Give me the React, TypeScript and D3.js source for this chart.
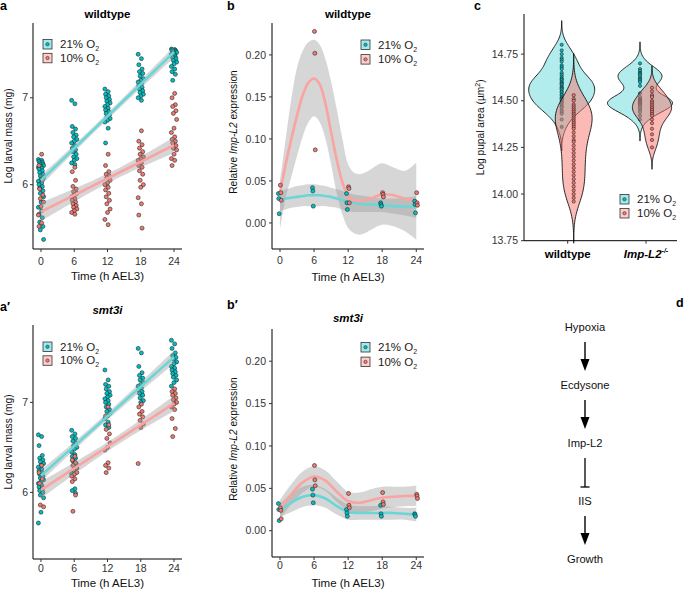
import React from 'react';
import * as d3 from 'd3';

const times = [0, 6, 12, 18, 24];
const oxygen = ['21', '10'];
const fills = ['#00BFC4', '#F8766D'];
const lineCols = ['#6ad6d7', '#fba3a0'];

// a: wildtype, log larval mass (mg), one list per time point
const massWt21 = [
  [6.29, 6.28, 6.27, 6.26, 6.25, 6.24, 6.23, 6.22, 6.21, 6.2, 6.19, 6.18, 6.16, 6.14, 6.12, 6.1, 6.08, 6.06, 6.04, 6.02, 6.0, 5.98, 5.96, 5.93, 5.9, 5.86, 5.8, 5.74, 5.7, 5.66, 5.62, 5.57, 5.52, 5.48, 5.37],
  [6.97, 6.93, 6.67, 6.64, 6.6, 6.57, 6.55, 6.52, 6.5, 6.48, 6.45, 6.42, 6.4, 6.38, 6.35, 6.32, 6.3, 6.28, 6.25, 6.23],
  [7.1, 7.07, 7.04, 7.02, 7.0, 6.98, 6.96, 6.94, 6.92, 6.9, 6.88, 6.86, 6.84, 6.82, 6.8, 6.78, 6.76, 6.74, 6.72, 6.65, 6.48],
  [7.5, 7.45, 7.38, 7.33, 7.3, 7.28, 7.25, 7.22, 7.2, 7.18, 7.16, 7.14, 7.12, 7.1, 7.08, 7.06, 7.04, 7.02, 7.0, 6.97],
  [7.56, 7.555, 7.55, 7.545, 7.54, 7.535, 7.53, 7.52, 7.51, 7.5, 7.49, 7.48, 7.47, 7.46, 7.45, 7.43, 7.41, 7.39, 7.36, 7.33, 7.3, 7.27, 7.2],
];
const massWt10 = [
  [6.35, 6.22, 6.05, 5.95, 5.88, 5.84, 5.8, 5.75, 5.65, 5.56, 5.52],
  [6.2, 6.15, 6.05, 5.98, 5.95, 5.92, 5.9, 5.88, 5.86, 5.84, 5.82, 5.8, 5.78, 5.76, 5.74, 5.72, 5.7, 5.68, 5.66],
  [6.35, 6.22, 6.15, 6.12, 6.1, 6.08, 6.05, 6.02, 6.0, 5.97, 5.94, 5.9, 5.86, 5.82, 5.78, 5.72, 5.68, 5.6, 5.54],
  [6.62, 6.5, 6.46, 6.42, 6.38, 6.35, 6.32, 6.3, 6.28, 6.25, 6.22, 6.2, 6.16, 6.12, 6.05, 6.0, 5.97, 5.85, 5.78, 5.65, 5.5],
  [7.05, 7.0, 6.92, 6.9, 6.85, 6.82, 6.75, 6.65, 6.6, 6.55, 6.52, 6.5, 6.48, 6.45, 6.42, 6.4, 6.35, 6.3, 6.28, 6.22],
];

// a': smt3i
const massSmt21 = [
  [6.64, 6.62, 6.52, 6.41, 6.38, 6.36, 6.34, 6.32, 6.3, 6.28, 6.26, 6.24, 6.22, 6.2, 6.18, 6.16, 6.14, 6.12, 6.1, 6.08, 6.06, 6.04, 6.02, 6.0, 5.97, 5.94, 5.78, 5.66],
  [6.69, 6.65, 6.62, 6.6, 6.57, 6.55, 6.52, 6.5, 6.48, 6.45, 6.42, 6.4, 6.38, 6.35, 6.32, 6.3, 6.27, 6.24, 6.21, 6.04, 6.02, 5.99],
  [7.36, 7.25, 7.2, 7.18, 7.15, 7.12, 7.1, 7.08, 7.06, 7.04, 7.02, 7.0, 6.98, 6.95, 6.92, 6.9, 6.88, 6.85, 6.82, 6.78, 6.75, 6.72],
  [7.6, 7.55, 7.4, 7.33, 7.3, 7.27, 7.25, 7.22, 7.2, 7.18, 7.16, 7.14, 7.12, 7.1, 7.08, 7.05, 7.02, 7.0],
  [7.69, 7.65, 7.6, 7.55, 7.52, 7.5, 7.48, 7.45, 7.43, 7.4, 7.38, 7.36, 7.34, 7.32, 7.3, 7.28, 7.25, 7.22, 7.18],
];
const massSmt10 = [
  [6.3, 6.22, 6.15, 6.1, 6.05, 5.86, 5.84],
  [6.4, 6.36, 6.33, 6.3, 6.27, 6.25, 6.22, 6.2, 6.18, 6.15, 6.12, 5.97, 5.79],
  [6.95, 6.85, 6.75, 6.7, 6.65, 6.6, 6.55, 6.5, 6.47, 6.33, 6.3, 6.27, 6.22],
  [6.98, 6.95, 6.9, 6.87, 6.84, 6.8, 6.76, 6.72, 6.32],
  [7.15, 7.12, 7.1, 7.08, 7.05, 7.03, 7.0, 6.98, 6.95, 6.92, 6.82, 6.71, 6.62],
];

// b: wildtype, relative Imp-L2 expression (qPCR replicates)
const exprWt21 = [[0.035, 0.029, 0.011], [0.042, 0.038, 0.02], [0.035, 0.024, 0.016], [0.024, 0.022, 0.02], [0.026, 0.022, 0.012]];
const exprWt10 = [[0.045, 0.036, 0.027], [0.228, 0.202, 0.087], [0.043, 0.041, 0.024], [0.036, 0.034, 0.031], [0.036, 0.024, 0.021]];
// loess fit and 95% band
const smoothTimesWt = [0, 1, 2, 3, 4, 5, 6, 7, 8, 9, 10, 11, 12, 13, 14, 15, 16, 18, 20, 22, 24];
const fitWt21 = [0.027, 0.029, 0.03, 0.031, 0.032, 0.033, 0.033, 0.033, 0.032, 0.031, 0.029, 0.027, 0.025, 0.024, 0.023, 0.022, 0.022, 0.021, 0.02, 0.0195, 0.019];
const upperWt21 = [0.038, 0.04, 0.042, 0.044, 0.045, 0.046, 0.046, 0.045, 0.044, 0.042, 0.04, 0.038, 0.036, 0.034, 0.033, 0.032, 0.031, 0.029, 0.029, 0.03, 0.032];
const lowerWt21 = [0.014, 0.016, 0.018, 0.019, 0.02, 0.02, 0.02, 0.02, 0.02, 0.019, 0.018, 0.016, 0.014, 0.013, 0.013, 0.013, 0.013, 0.013, 0.011, 0.009, 0.006];
const fitWt10 = [0.036, 0.07, 0.1, 0.128, 0.152, 0.167, 0.172, 0.165, 0.142, 0.108, 0.075, 0.048, 0.032, 0.027, 0.026, 0.027, 0.029, 0.034, 0.033, 0.029, 0.026];
const upperWt10 = [0.05, 0.1, 0.148, 0.185, 0.205, 0.215, 0.218, 0.212, 0.195, 0.168, 0.135, 0.1, 0.07, 0.06, 0.058, 0.06, 0.064, 0.071, 0.066, 0.062, 0.072];
const lowerWt10 = [-0.008, 0.03, 0.055, 0.08, 0.103, 0.12, 0.127, 0.12, 0.1, 0.07, 0.035, 0.01, -0.006, -0.012, -0.014, -0.012, -0.008, -0.002, -0.004, -0.01, -0.02];

// b': smt3i
const exprSmt21 = [[0.032, 0.025, 0.012], [0.049, 0.042, 0.033], [0.025, 0.021, 0.017], [0.03, 0.02, 0.017], [0.02, 0.019, 0.017]];
const exprSmt10 = [[0.027, 0.024, 0.014], [0.077, 0.06, 0.053], [0.044, 0.03, 0.027], [0.045, 0.034, 0.031], [0.043, 0.041, 0.038]];
const smoothTimesSmt = [0, 2, 4, 6, 8, 10, 12, 14, 16, 18, 20, 22, 24];
const fitSmt21 = [0.024, 0.033, 0.04, 0.042, 0.038, 0.029, 0.022, 0.021, 0.021, 0.021, 0.021, 0.02, 0.019];
const upperSmt21 = [0.032, 0.044, 0.052, 0.054, 0.049, 0.039, 0.031, 0.029, 0.029, 0.029, 0.028, 0.027, 0.027];
const lowerSmt21 = [0.016, 0.022, 0.028, 0.03, 0.027, 0.019, 0.013, 0.013, 0.013, 0.013, 0.013, 0.013, 0.011];
const fitSmt10 = [0.025, 0.043, 0.057, 0.064, 0.059, 0.046, 0.035, 0.033, 0.036, 0.039, 0.04, 0.041, 0.041];
const upperSmt10 = [0.036, 0.055, 0.07, 0.076, 0.071, 0.058, 0.046, 0.045, 0.049, 0.052, 0.052, 0.052, 0.053];
const lowerSmt10 = [0.014, 0.031, 0.045, 0.052, 0.047, 0.034, 0.024, 0.021, 0.023, 0.026, 0.028, 0.029, 0.029];

// c: log pupal area (um^2)
const genotypes = ['wildtype', 'Imp-L2'];
const pupalWt21 = [14.8, 14.77, 14.75, 14.73, 14.72, 14.71, 14.69, 14.68, 14.67, 14.65, 14.64, 14.63, 14.62, 14.615, 14.61, 14.6, 14.595, 14.59, 14.585, 14.575, 14.57, 14.565, 14.56, 14.55, 14.545, 14.535, 14.53, 14.52, 14.515, 14.51, 14.505, 14.495, 14.49, 14.48, 14.47, 14.465, 14.45, 14.44, 14.43, 14.4, 14.36];
const pupalWt10 = [14.53, 14.51, 14.5, 14.48, 14.47, 14.46, 14.45, 14.44, 14.43, 14.42, 14.41, 14.4, 14.39, 14.38, 14.37, 14.36, 14.35, 14.33, 14.31, 14.29, 14.28, 14.26, 14.24, 14.22, 14.2, 14.18, 14.16, 14.14, 14.12, 14.1, 14.08, 14.06, 14.04, 14.02, 14.0, 13.98, 13.96];
const pupalImp21 = [14.7, 14.67, 14.66, 14.65, 14.645, 14.64, 14.63, 14.62, 14.615, 14.61, 14.6, 14.58, 14.54, 14.52, 14.51, 14.505, 14.5, 14.5, 14.495, 14.49, 14.49, 14.485, 14.48, 14.475, 14.47, 14.46, 14.45, 14.44, 14.42, 14.4];
const pupalImp10 = [14.57, 14.55, 14.53, 14.52, 14.5, 14.49, 14.48, 14.47, 14.46, 14.45, 14.44, 14.43, 14.42, 14.4, 14.38, 14.35, 14.32, 14.29, 14.25];
const pupalTicks = [13.75, 14.0, 14.25, 14.5, 14.75];

// d: model
const steps = ['Hypoxia', 'Ecdysone', 'Imp-L2', 'IIS', 'Growth'];
const links = ['activates', 'activates', 'inhibits', 'activates'];

const font = "'Liberation Sans', Arial, Helvetica, sans-serif";
const jitter = (i: number, amp: number) => ((((i * 5) % 9) - 4) / 4) * amp;

const Legend = ({ x, y, gap }: any) => (
  <g>
    {oxygen.map((o, i) => (
      <g key={o} transform={`translate(${x},${y + i * gap})`}>
        <rect width={9} height={9.5} fill={fills[i]} fillOpacity={0.35} stroke="#333" strokeWidth={0.8} />
        <circle cx={4.5} cy={4.75} r={1.7} fill={fills[i]} stroke="#222" strokeWidth={0.5} />
        <text x={17} y={8.5} fontSize={11.5} fill="#222">
          {o}% O<tspan fontSize={7} dy={3}>2</tspan>
        </text>
      </g>
    ))}
  </g>
);

function linFit(groups: number[][]) {
  const pts = groups.flatMap((vals, i) => vals.map(v => [times[i], v]));
  const n = pts.length;
  const mx = d3.mean(pts, p => p[0]) as number;
  const my = d3.mean(pts, p => p[1]) as number;
  const sxx = d3.sum(pts, p => (p[0] - mx) ** 2);
  const b = d3.sum(pts, p => (p[0] - mx) * (p[1] - my)) / sxx;
  const a = my - b * mx;
  const s = Math.sqrt(d3.sum(pts, p => (p[1] - a - b * p[0]) ** 2) / (n - 2));
  return d3.range(0, 24.01, 0.5).map(t => {
    const se = 1.97 * s * Math.sqrt(1 / n + (t - mx) ** 2 / sxx);
    const f = a + b * t;
    return { t, f, lo: f - se, hi: f + se };
  });
}

const XAxis = ({ x, y0, tickY, titleY, xRight }: any) => (
  <g>
    <line x1={x.range()[0]} x2={xRight} y1={y0} y2={y0} stroke="#000" strokeWidth={1} />
    {times.map(t => (
      <g key={t}>
        <line x1={x(t)} x2={x(t)} y1={y0} y2={y0 + 3} stroke="#333" />
        <text x={x(t)} y={tickY} textAnchor="middle" fontSize={10.5} fill="#333">{t}</text>
      </g>
    ))}
    <text x={(x.range()[0] + xRight) / 2} y={titleY} textAnchor="middle" fontSize={11.5} fill="#111">Time (h AEL3)</text>
  </g>
);

const MassPanel = ({ d21, d10, title, italic, tag, tagY, titleY, top, bottom, tickY, xTitleY, legY }: any) => {
  const x = d3.scaleLinear().domain([-1.44, 25.44]).range([33, 182]);
  const y = d3.scaleLinear().domain([5.26, 7.86]).range([bottom, top]);
  const fits = [linFit(d21), linFit(d10)];
  const band = d3.area<any>().x(d => x(d.t)).y0(d => y(d.lo)).y1(d => y(d.hi));
  const line = d3.line<any>().x(d => x(d.t)).y(d => y(d.f));
  return (
    <g>
      <text x={0} y={tagY} fontSize={12.5} fontWeight="bold">{tag}</text>
      <text x={107.5} y={titleY} textAnchor="middle" fontSize={11.5} fontWeight="bold" fontStyle={italic ? 'italic' : 'normal'}>{title}</text>
      {[d21, d10].map((grp: number[][], gi: number) => (
        <g key={gi}>
          {grp.flatMap((vals, ti) => vals.map((v, i) => (
            <circle key={`${ti}-${i}`} cx={x(times[ti]) + jitter(i + gi, 2.6)} cy={y(v)} r={2} fill={fills[gi]} stroke="#1d2b2b" strokeWidth={0.6} />
          )))}
        </g>
      ))}
      {fits.map((f, gi) => (
        <g key={gi}>
          <path d={band(f) as string} fill="#999" fillOpacity={0.4} />
          <path d={line(f) as string} fill="none" stroke={lineCols[gi]} strokeWidth={2.6} />
        </g>
      ))}
      <line x1={33} x2={33} y1={top} y2={bottom} stroke="#000" />
      {y.ticks(2).map(t => (
        <g key={t}>
          <line x1={30} x2={33} y1={y(t)} y2={y(t)} stroke="#333" />
          <text x={28} y={y(t) + 3.7} textAnchor="end" fontSize={10.5} fill="#333">{t}</text>
        </g>
      ))}
      <text transform={`translate(12,${(top + bottom) / 2}) rotate(-90)`} textAnchor="middle" fontSize={10.2} fill="#111">Log larval mass (mg)</text>
      <XAxis x={x} y0={bottom} tickY={tickY} titleY={xTitleY} xRight={182} />
      <Legend x={43} y={legY} gap={13.8} />
    </g>
  );
};

const ExprPanel = ({ d21, d10, smoothT, fit21, up21, lo21, fit10, up10, lo10, title, italic, tag, tagY, titleY, top, bottom, tickY, xTitleY, legY }: any) => {
  const x = d3.scaleLinear().domain([-1.41, 25.36]).range([272, 424]);
  const y = d3.scaleLinear().domain([-0.031, 0.238]).range([bottom, top]);
  const curve = d3.curveCatmullRom.alpha(0.5);
  const band = d3.area<number>().x((_, i) => x(smoothT[i])).curve(curve);
  const line = d3.line<number>().x((_, i) => x(smoothT[i])).y(v => y(v)).curve(curve);
  const groups = [
    { pts: d21, fit: fit21, up: up21, lo: lo21 },
    { pts: d10, fit: fit10, up: up10, lo: lo10 },
  ];
  return (
    <g>
      <text x={227} y={tagY} fontSize={12.5} fontWeight="bold">{tag}</text>
      <text x={348} y={titleY} textAnchor="middle" fontSize={11.5} fontWeight="bold" fontStyle={italic ? 'italic' : 'normal'}>{title}</text>
      {groups.map((g, gi) => (
        <path key={gi} d={band.y0((_, i) => y(g.lo[i])).y1(v => y(v))(g.up) as string} fill="#999" fillOpacity={0.4} />
      ))}
      {groups.map((g, gi) => (
        <path key={gi} d={line(g.fit) as string} fill="none" stroke={lineCols[gi]} strokeWidth={2.6} />
      ))}
      {groups.map((g, gi) => (
        <g key={gi}>
          {g.pts.flatMap((vals: number[], ti: number) => vals.map((v, i) => (
            <circle key={`${ti}-${i}`} cx={x(times[ti]) + jitter(i * 2 + gi, 1.6)} cy={y(v)} r={2} fill={fills[gi]} stroke="#1d2b2b" strokeWidth={0.6} />
          )))}
        </g>
      ))}
      <line x1={272} x2={272} y1={top} y2={bottom} stroke="#000" />
      {y.ticks(5).map(t => (
        <g key={t}>
          <line x1={269} x2={272} y1={y(t)} y2={y(t)} stroke="#333" />
          <text x={266} y={y(t) + 3.6} textAnchor="end" fontSize={10.5} fill="#333">{d3.format('.2f')(t)}</text>
        </g>
      ))}
      <text transform={`translate(237,${(top + bottom) / 2 - 4}) rotate(-90)`} textAnchor="middle" fontSize={10.2} fill="#111">
        Relative <tspan fontStyle="italic">Imp-L2</tspan> expression
      </text>
      <XAxis x={x} y0={bottom} tickY={tickY} titleY={xTitleY} xRight={424} />
      <Legend x={361} y={legY} gap={14.6} />
    </g>
  );
};

const gauss = (u: number) => Math.exp(-0.5 * u * u) / Math.sqrt(2 * Math.PI);
// gaussian kernel density, nrd0 bandwidth, untrimmed tails (3 bw), scaled by count
function density(vals: number[]) {
  const s = vals.slice().sort(d3.ascending);
  const n = s.length;
  const sd = d3.deviation(s) as number;
  const iqr = (d3.quantile(s, 0.75) as number) - (d3.quantile(s, 0.25) as number);
  const bw = 0.9 * Math.min(sd, iqr / 1.34) * Math.pow(n, -0.2);
  const lo = s[0] - 3 * bw;
  const hi = s[n - 1] + 3 * bw;
  return d3.range(121).map(k => {
    const v = lo + ((hi - lo) * k) / 120;
    return [v, ((d3.mean(s, d => gauss((v - d) / bw)) as number) / bw) * n];
  });
}

const ViolinPanel = () => {
  const top = 14, bottom = 240.7;
  const y = d3.scaleLinear().domain([13.75, 14.965]).range([bottom, top]);
  const x = d3.scalePoint<string>().domain(genotypes).range([567.7, 646]);
  const groups = [
    { g: 'wildtype', o: 0, vals: pupalWt21 },
    { g: 'wildtype', o: 1, vals: pupalWt10 },
    { g: 'Imp-L2', o: 0, vals: pupalImp21 },
    { g: 'Imp-L2', o: 1, vals: pupalImp10 },
  ].map(d => ({ ...d, dens: density(d.vals) }));
  const maxD = d3.max(groups, d => d3.max(d.dens, p => p[1])) as number;
  const w = d3.scaleLinear().domain([0, maxD]).range([0, 33]);
  const dodge = 6;
  return (
    <g>
      <text x={474} y={9.5} fontSize={12.5} fontWeight="bold">c</text>
      {groups.map((d, i) => {
        const cx = (x(d.g) as number) + (d.o === 0 ? -dodge : dodge);
        const area = d3.area<number[]>().y(p => y(p[0])).x0(p => cx - w(p[1])).x1(p => cx + w(p[1])).curve(d3.curveBasis);
        return (
          <g key={i}>
            <path d={area(d.dens) as string} fill={fills[d.o]} fillOpacity={d.o === 0 ? 0.3 : 0.5} stroke="#111" strokeWidth={0.9} />
            {d.vals.map((v, k) => (
              <circle key={k} cx={cx} cy={y(v)} r={1.6} fill={fills[d.o]} stroke="#222" strokeWidth={0.6} />
            ))}
          </g>
        );
      })}
      <line x1={524} x2={524} y1={top} y2={bottom} stroke="#000" />
      <line x1={524} x2={677} y1={bottom} y2={bottom} stroke="#000" />
      {pupalTicks.map(t => (
        <g key={t}>
          <line x1={521} x2={524} y1={y(t)} y2={y(t)} stroke="#333" />
          <text x={518} y={y(t) + 3.6} textAnchor="end" fontSize={10.5} fill="#333">{d3.format('.2f')(t)}</text>
        </g>
      ))}
      {genotypes.map(g => (
        <line key={g} x1={x(g)} x2={x(g)} y1={bottom} y2={bottom + 3} stroke="#333" />
      ))}
      <text x={x('wildtype')} y={258} textAnchor="middle" fontSize={11.5} fontWeight="bold">wildtype</text>
      <text x={x('Imp-L2')} y={258} textAnchor="middle" fontSize={11.5} fontWeight="bold" fontStyle="italic">
        Imp-L2<tspan fontSize={7} dy={-5}>-/-</tspan>
      </text>
      <text transform={`translate(484,${(top + bottom) / 2}) rotate(-90)`} textAnchor="middle" fontSize={10.2} fill="#111">
        Log pupal area (µm<tspan fontSize={7} dy={-4}>2</tspan><tspan dy={4}>)</tspan>
      </text>
      <Legend x={620} y={194.5} gap={14} />
    </g>
  );
};

const Pathway = () => {
  const y = d3.scalePoint<string>().domain(steps).range([327, 559]);
  const cx = 585;
  return (
    <g>
      <text x={676} y={307} fontSize={12.5} fontWeight="bold">d</text>
      {steps.map(s => (
        <text key={s} x={cx} y={(y(s) as number) + 4} textAnchor="middle" fontSize={11.2} fill="#111">{s}</text>
      ))}
      {links.map((l, i) => {
        const y0 = (y(steps[i]) as number) + 15;
        const y1 = (y(steps[i + 1]) as number) - 14;
        return l === 'inhibits' ? (
          <g key={i}>
            <line x1={cx} x2={cx} y1={y0} y2={y1} stroke="#000" strokeWidth={1.3} />
            <line x1={cx - 4.5} x2={cx + 4.5} y1={y1} y2={y1} stroke="#000" strokeWidth={1.3} />
          </g>
        ) : (
          <g key={i}>
            <line x1={cx} x2={cx} y1={y0} y2={y1 - 9} stroke="#000" strokeWidth={1.4} />
            <path d={`M${cx - 4.5},${y1 - 12} L${cx + 4.5},${y1 - 12} L${cx},${y1} Z`} fill="#000" />
          </g>
        );
      })}
    </g>
  );
};

export default function App() {
  return (
    <div>
      <style>{'body{margin:0}'}</style>
      <svg width={685} height={591} style={{ display: 'block', fontFamily: font, background: '#fff' }}>
        <MassPanel d21={massWt21} d10={massWt10} title="wildtype" tag="a" tagY={10} titleY={18} top={23} bottom={249} tickY={265} xTitleY={280} legY={39.5} />
        <MassPanel d21={massSmt21} d10={massSmt10} title="smt3i" italic tag="a′" tagY={311} titleY={314} top={325} bottom={559} tickY={572} xTitleY={587} legY={342} />
        <ExprPanel d21={exprWt21} d10={exprWt10} smoothT={smoothTimesWt} fit21={fitWt21} up21={upperWt21} lo21={lowerWt21} fit10={fitWt10} up10={upperWt10} lo10={lowerWt10}
          title="wildtype" tag="b" tagY={10} titleY={18} top={23} bottom={249} tickY={264} xTitleY={281} legY={40} />
        <ExprPanel d21={exprSmt21} d10={exprSmt10} smoothT={smoothTimesSmt} fit21={fitSmt21} up21={upperSmt21} lo21={lowerSmt21} fit10={fitSmt10} up10={upperSmt10} lo10={lowerSmt10}
          title="smt3i" italic tag="b′" tagY={309} titleY={322} top={329} bottom={557} tickY={569} xTitleY={587} legY={342.5} />
        <ViolinPanel />
        <Pathway />
      </svg>
    </div>
  );
}
